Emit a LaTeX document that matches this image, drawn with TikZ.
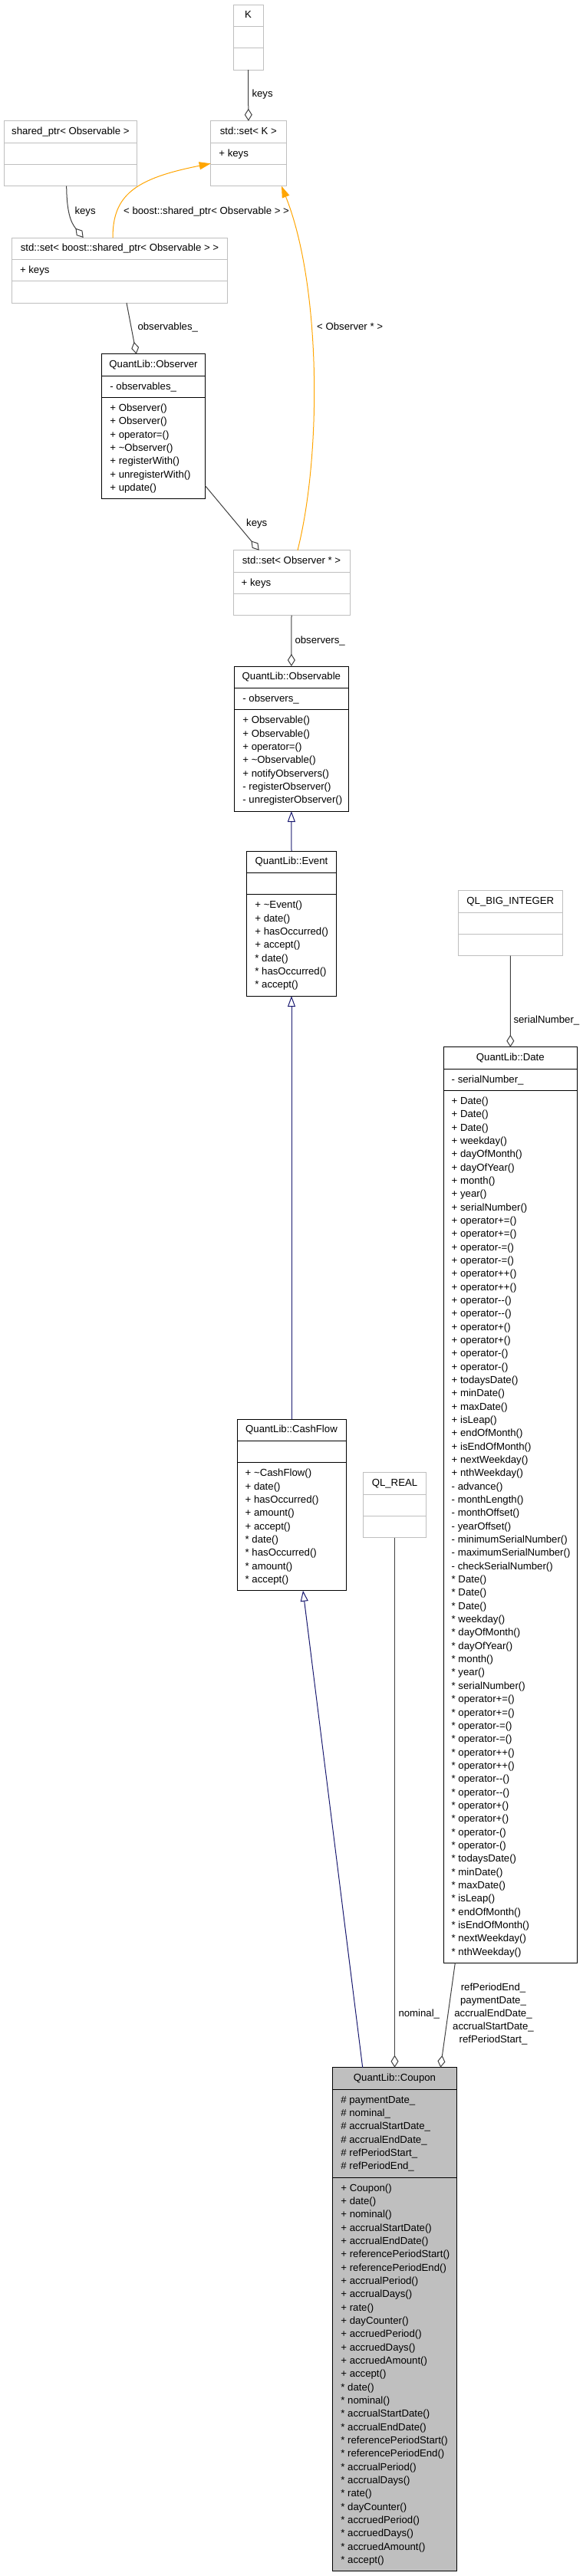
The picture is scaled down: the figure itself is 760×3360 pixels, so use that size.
\documentclass[tikz,border=0pt]{standalone}
\usepackage{fontspec}
\newfontfamily\umlfont{Liberation Sans}
\usetikzlibrary{arrows.meta}
\definecolor{grey25}{HTML}{404040}
\definecolor{grey75}{HTML}{BFBFBF}
\definecolor{midnightblue}{HTML}{191970}
\definecolor{dorange}{HTML}{FFA500}
\newcommand\dminus{\mbox{-}\mbox{-}}
\newcommand\countitems[1]{\gdef\itemcount{0}\foreach \z [count=\cnt] in {#1} {\xdef\itemcount{\cnt}}}
\newcommand\umlclass[8]{%
  \countitems{#7}\pgfmathsetmacro\na{max(\itemcount,1)}%
  \countitems{#8}\pgfmathsetmacro\nm{max(\itemcount,1)}%
  \pgfmathsetmacro\ya{#3+28.34}%
  \pgfmathsetmacro\yb{\ya+\na*17.34+11}%
  \pgfmathsetmacro\yc{\yb+\nm*17.34+11}%
  \pgfmathsetmacro\bw{#4-#2}%
  \pgfmathsetmacro\bh{\yc-#3}%
  \node[#5, anchor=north west, minimum width=\bw pt, minimum height=\bh pt, inner sep=0pt, outer sep=0pt] (#1) at (#2,#3) {};%
  \draw[#5, fill=none] (#2,\ya) -- (#4,\ya) (#2,\yb) -- (#4,\yb);%
  \node[txt, anchor=base] (#1-h) at ({(#2+#4)/2}, {#3+17.97}) {#6};%
  \foreach \itm [count=\k] in {#7} {\pgfmathsetmacro\yy{\ya+17.97+(\k-1)*17.34}\node[txt, anchor=base west] (#1-a\k) at ({#2+10.5}, \yy) {\itm};}%
  \foreach \itm [count=\k] in {#8} {\pgfmathsetmacro\yy{\yb+17.97+(\k-1)*17.34}\node[txt, anchor=base west] (#1-m\k) at ({#2+10.5}, \yy) {\itm};}%
}
\tikzset{
  txt/.style={font={\umlfont\fontsize{13.2pt}{17.34pt}\selectfont}, inner sep=0pt},
  grayclass/.style={draw=grey75, line width=1pt, fill=white},
  blackclass/.style={draw=black, line width=1pt, fill=white},
  couponclass/.style={draw=black, line width=1pt, fill=grey75},
  usage/.style={draw=grey25, line width=1pt, -{Diamond[open,length=16pt,width=10pt]}},
  inherit/.style={draw=midnightblue, line width=1pt, -{Triangle[open,length=14pt,width=10pt]}},
  templ/.style={draw=dorange, line width=1pt, -{Triangle[length=15pt,width=10pt,fill=dorange]}},
  elabel/.style={txt, anchor=base west},
}
\begin{document}
\begin{tikzpicture}[x=1pt,y=-1pt]
\useasboundingbox[fill=white] (0,0) rectangle (760,3360);

\umlclass{K}{304}{6}{343}{grayclass}{K}{}{}
\umlclass{setK}{274.7}{157.7}{373}{grayclass}{std::set< K >}{+ keys}{}
\umlclass{sptr}{5}{157.7}{178.7}{grayclass}{shared\_ptr< Observable >}{}{}
\umlclass{setSP}{15.3}{310}{296.7}{grayclass}{std::set< boost::shared\_ptr< Observable > >}{+ keys}{}
\umlclass{observer}{132.7}{461.7}{267.3}{blackclass}{QuantLib::Observer}{- observables\_}{+ Observer(), + Observer(), + operator=(), + \textasciitilde Observer(), + registerWith(), + unregisterWith(), + update()}
\umlclass{setObs}{304}{717.7}{456}{grayclass}{std::set< Observer * >}{+ keys}{}
\umlclass{observable}{305.7}{869}{454}{blackclass}{QuantLib::Observable}{- observers\_}{+ Observable(), + Observable(), + operator=(), + \textasciitilde Observable(), + notifyObservers(), - registerObserver(), - unregisterObserver()}
\umlclass{event}{321.7}{1110}{438.3}{blackclass}{QuantLib::Event}{}{+ \textasciitilde Event(), + date(), + hasOccurred(), + accept(), * date(), * hasOccurred(), * accept()}
\umlclass{qlbi}{597.3}{1161.7}{733.3}{grayclass}{QL\_BIG\_INTEGER}{}{}
\umlclass{date}{578}{1365.7}{752.7}{blackclass}{QuantLib::Date}{- serialNumber\_}{+ Date(), + Date(), + Date(), + weekday(), + dayOfMonth(), + dayOfYear(), + month(), + year(), + serialNumber(), + operator+=(), + operator+=(), + operator-=(), + operator-=(), + operator++(), + operator++(), + operator\dminus(), + operator\dminus(), + operator+(), + operator+(), + operator-(), + operator-(), + todaysDate(), + minDate(), + maxDate(), + isLeap(), + endOfMonth(), + isEndOfMonth(), + nextWeekday(), + nthWeekday(), - advance(), - monthLength(), - monthOffset(), - yearOffset(), - minimumSerialNumber(), - maximumSerialNumber(), - checkSerialNumber(), * Date(), * Date(), * Date(), * weekday(), * dayOfMonth(), * dayOfYear(), * month(), * year(), * serialNumber(), * operator+=(), * operator+=(), * operator-=(), * operator-=(), * operator++(), * operator++(), * operator\dminus(), * operator\dminus(), * operator+(), * operator+(), * operator-(), * operator-(), * todaysDate(), * minDate(), * maxDate(), * isLeap(), * endOfMonth(), * isEndOfMonth(), * nextWeekday(), * nthWeekday()}
\umlclass{cashflow}{309}{1851}{451}{blackclass}{QuantLib::CashFlow}{}{+ \textasciitilde CashFlow(), + date(), + hasOccurred(), + amount(), + accept(), * date(), * hasOccurred(), * amount(), * accept()}
\umlclass{qlreal}{473.7}{1920.7}{555.3}{grayclass}{QL\_REAL}{}{}
\umlclass{coupon}{433.7}{2696.7}{595.3}{couponclass}{QuantLib::Coupon}{\# paymentDate\_, \# nominal\_, \# accrualStartDate\_, \# accrualEndDate\_, \# refPeriodStart\_, \# refPeriodEnd\_}{+ Coupon(), + date(), + nominal(), + accrualStartDate(), + accrualEndDate(), + referencePeriodStart(), + referencePeriodEnd(), + accrualPeriod(), + accrualDays(), + rate(), + dayCounter(), + accruedPeriod(), + accruedDays(), + accruedAmount(), + accept(), * date(), * nominal(), * accrualStartDate(), * accrualEndDate(), * referencePeriodStart(), * referencePeriodEnd(), * accrualPeriod(), * accrualDays(), * rate(), * dayCounter(), * accruedPeriod(), * accruedDays(), * accruedAmount(), * accept()}

% connectors
\draw[usage] (K.south) -- (setK.north);
\draw[usage] ([xshift=-5.15pt]sptr.south) .. controls (87,276) and (92,290) .. ([xshift=-47.3pt]setSP.north);
\draw[templ] ([xshift=-9pt]setSP.north) .. controls (147,255) and (175,233) .. ([yshift=-13.1pt]setK.west);
\draw[usage] ([xshift=9pt]setSP.south) -- ([xshift=-22.3pt]observer.north);
\draw[usage] ([yshift=-77.1pt]observer.east) -- ([xshift=-42.3pt]setObs.north);
\draw[templ] ([xshift=8pt]setObs.north) .. controls (420,590) and (418,370) .. ([xshift=43.15pt]setK.south);
\draw[usage] (setObs.south) -- (observable.north);
\draw[inherit] (event.north) -- (observable.south);
\draw[inherit] (cashflow.north) -- (event.south);
\draw[inherit] ([xshift=-41.8pt]coupon.north) -- ([xshift=15pt]cashflow.south);
\draw[usage] (qlbi.south) -- (date.north);
\draw[usage] (qlreal.south) -- (coupon.north);
\draw[usage] ([xshift=-72.05pt]date.south) -- ([xshift=59.8pt]coupon.north);

% connector labels
\node[elabel] (l1) at (328.3,126.5) {keys};
\node[elabel] (l2) at (97.3,279) {keys};
\node[elabel] (l3) at (161,279) {< boost::shared\_ptr< Observable > >};
\node[elabel] (l4) at (179.3,430.5) {observables\_};
\node[elabel] (l5) at (413,430.5) {< Observer * >};
\node[elabel] (l6) at (321,686) {keys};
\node[elabel] (l7) at (384.3,839) {observers\_};
\node[elabel] (l8) at (669.3,1334.5) {serialNumber\_};
\node[elabel] (l9) at (519.3,2630.5) {nominal\_};
\foreach \lab [count=\k] in {refPeriodEnd\_, paymentDate\_, accrualEndDate\_, accrualStartDate\_, refPeriodStart\_}
  {\pgfmathsetmacro\yy{2579.4+\k*17.1}\node[txt, anchor=base] (ml\k) at (643, \yy) {\lab};}
\end{tikzpicture}
\end{document}
